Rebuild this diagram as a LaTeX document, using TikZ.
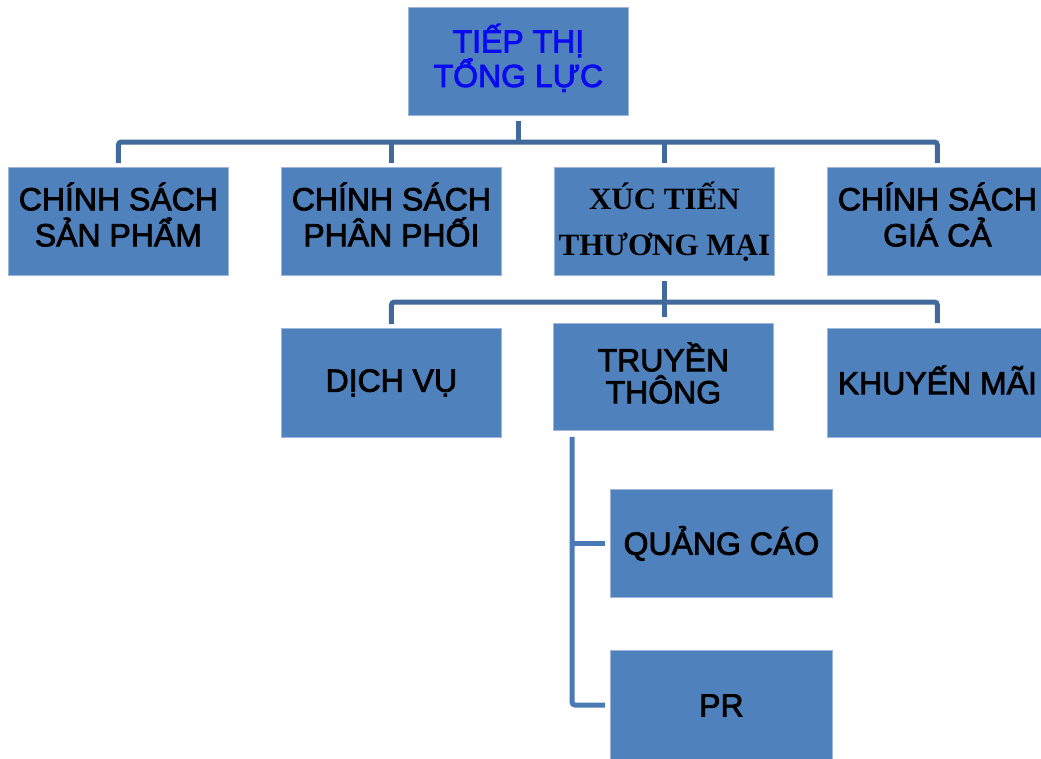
\documentclass[tikz,border=0pt]{standalone}
\usepackage{fontspec}
\setmainfont{Liberation Sans}[FakeBold=2.5]
\newfontfamily\serifface{Liberation Serif}
\begin{document}
\begin{tikzpicture}[x=1pt,y=-1pt,
  box/.style={rectangle, fill=boxblue, draw=boxedge, line width=0.8pt,
    anchor=north west, align=center, inner sep=2pt,
    font=\fontsize{32}{34}\selectfont},
  conn/.style={draw=linedark, line width=5pt, rounded corners=3pt},
  connlight/.style={draw=linelight, line width=5pt, rounded corners=3pt}]
\definecolor{boxblue}{HTML}{4F81BD}
\definecolor{boxedge}{HTML}{9DB7DA}
\definecolor{linedark}{HTML}{41699C}
\definecolor{linelight}{HTML}{4A7AB5}
\definecolor{titleblue}{HTML}{0A0AF0}

\useasboundingbox (0,0) rectangle (1041,758);
\clip (0,0) rectangle (1041,758);

% top level
\node[box, minimum width=220pt, minimum height=108pt, text=titleblue,
  font=\fontsize{32}{33}\selectfont, text depth=12pt]
  (top) at (408,7) {TIẾP THỊ\\TỔNG LỰC};

% second level
\node[box, minimum width=220pt, minimum height=108pt, font=\fontsize{32}{36}\selectfont, text depth=14pt]
  (p1) at (8,167) {CHÍNH SÁCH\\SẢN PHẨM};
\node[box, minimum width=220pt, minimum height=108pt, font=\fontsize{32}{36}\selectfont, text depth=14pt]
  (p2) at (281,167) {CHÍNH SÁCH\\PHÂN PHỐI};
\node[box, minimum width=220pt, minimum height=108pt,
  font=\serifface\bfseries\fontsize{31}{46}\selectfont] (p3) at (554,167) {XÚC TIẾN\\THƯƠNG MẠI};
\node[box, minimum width=220pt, minimum height=108pt, font=\fontsize{32}{36}\selectfont, text depth=14pt]
  (p4) at (827,167) {CHÍNH SÁCH\\GIÁ CẢ};

% third level
\node[box, minimum width=220pt, minimum height=109pt] (c1) at (281,328) {DỊCH VỤ};
\node[box, minimum width=220pt, minimum height=107pt, font=\fontsize{32}{32}\selectfont, text depth=8pt]
  (c2) at (553,323) {TRUYỀN\\THÔNG};
\node[box, minimum width=220pt, minimum height=109pt, text depth=6pt] (c3) at (827,328) {KHUYẾN MÃI};

% fourth level
\node[box, minimum width=222pt, minimum height=108pt] (d1) at (610,489) {QUẢNG CÁO};
\node[box, minimum width=222pt, minimum height=110pt] (d2) at (610,650) {PR};

% bus lines
\coordinate (bus1) at (518,142);
\coordinate (bus2) at (664,302);
\coordinate (trunk) at ([xshift=19pt,yshift=-6pt]c2.south west);

% top to second level
\draw[conn] ([yshift=-5pt]top.south) -- (top.south |- bus1);
\draw[conn] ([yshift=4pt]p1.north) |- (p4.north |- bus1) -- ([yshift=4pt]p4.north);
\draw[conn] (p2.north |- bus1) -- ([yshift=4pt]p2.north);
\draw[conn] (p3.north |- bus1) -- ([yshift=4pt]p3.north);

% promotion to third level
\draw[conn] ([yshift=-5pt]p3.south) -- ([yshift=6pt]p3.south |- c2.north);
\draw[conn] ([yshift=4pt]c1.north) |- (c3.north |- bus2) -- ([yshift=5pt]c3.north);

% communication to fourth level
\draw[connlight] (trunk) |- ([xshift=-5pt]d2.west |- 0,705);
\draw[connlight] (trunk |- d1.west) -- ([xshift=-5pt]d1.west);
\end{tikzpicture}
\end{document}
